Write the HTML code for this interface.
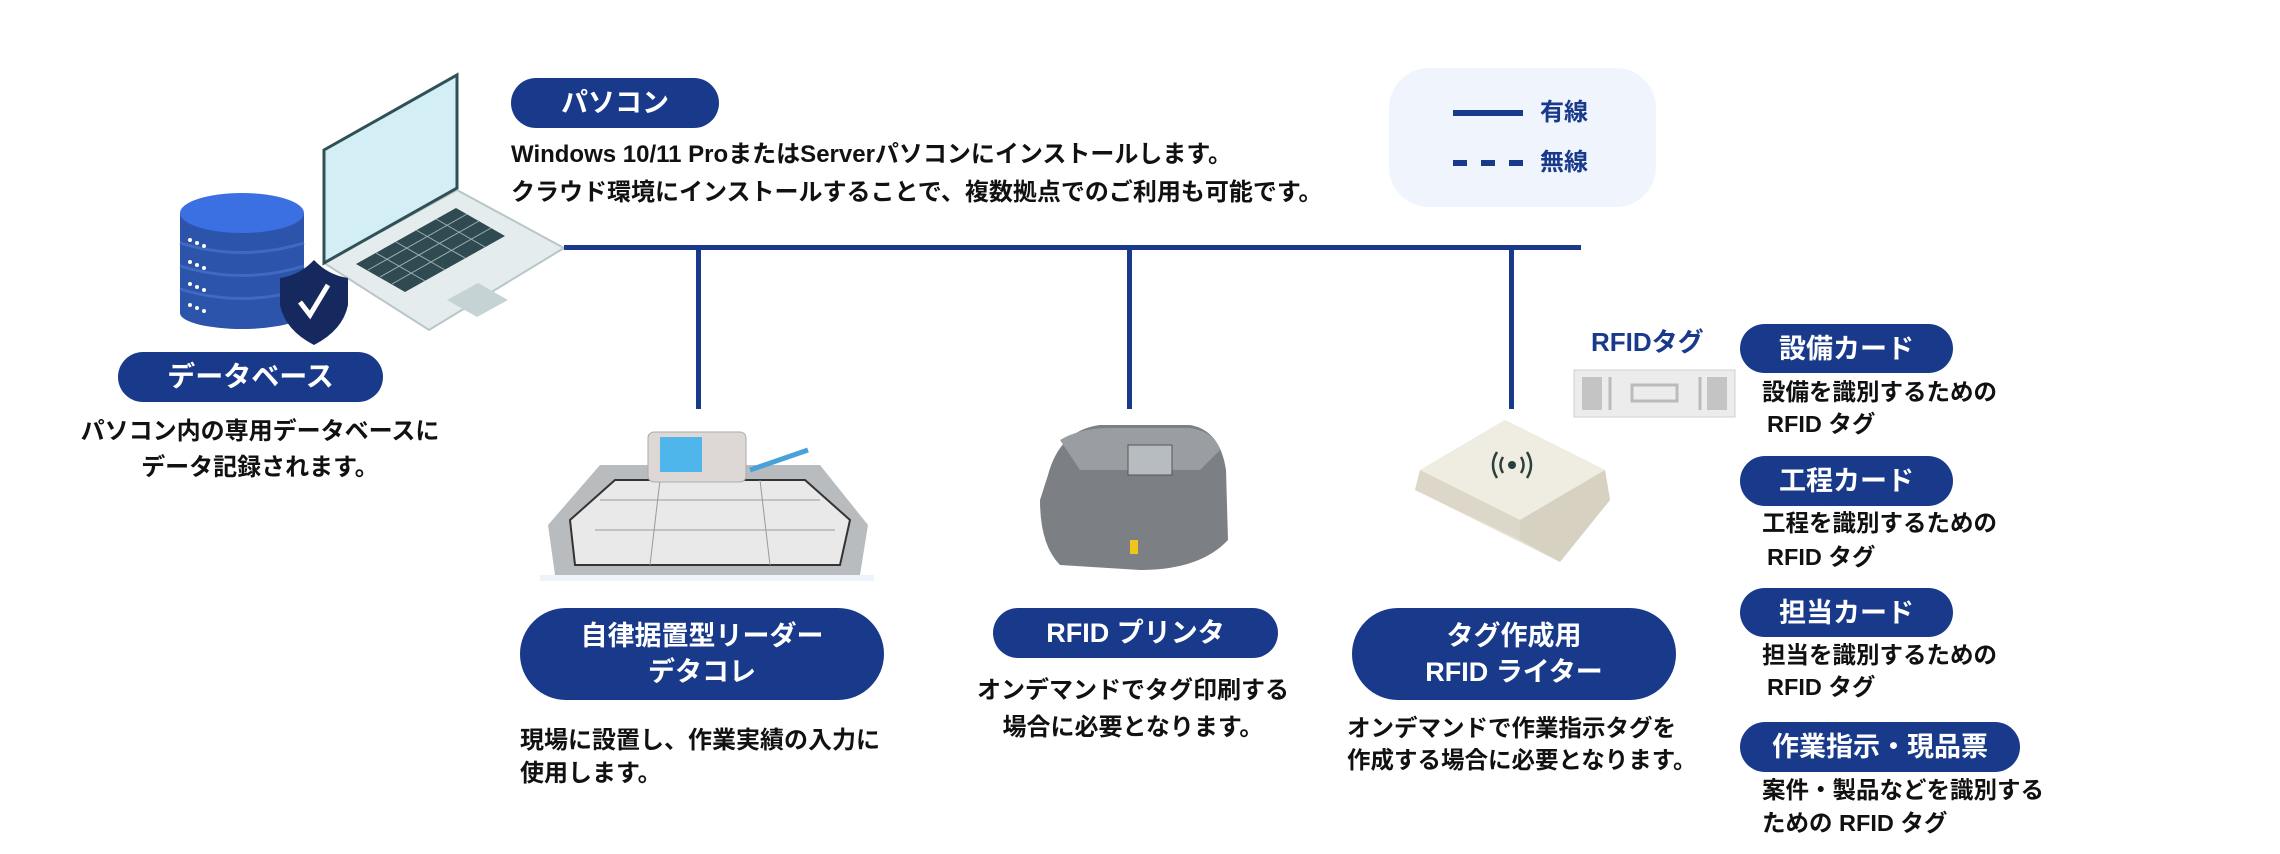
<!DOCTYPE html>
<html><head><meta charset="utf-8"><style>
*{margin:0;padding:0;box-sizing:border-box}
body{width:2280px;height:854px;background:#fff;position:relative;overflow:hidden;font-family:"Liberation Sans","Noto Sans CJK JP",sans-serif;font-weight:700;color:#111}
.a{position:absolute;white-space:nowrap}
.pill{position:absolute;background:#193a8b;color:#fff;border-radius:26px;display:flex;align-items:center;justify-content:center;text-align:center;font-size:27px;line-height:36px}
.big{border-radius:46px}
.t{position:absolute;white-space:nowrap;font-size:24px;line-height:33px}
.c{font-size:23.5px;line-height:33px}
.ln{position:absolute;background:#193a8b}
</style></head><body>

<svg class="a" style="left:0;top:0" width="2280" height="854">
 <!-- laptop -->
 <polygon points="324,263 457,190 564,248 429,330" fill="#e4eced" stroke="#b8c6c8" stroke-width="2"/>
 <polygon points="356,264 456,208 505,236 405,292" fill="#2f4a50"/>
 <g stroke="#9db0b3" stroke-width="1">
  <line x1="368" y1="270" x2="467" y2="214"/><line x1="380" y1="277" x2="479" y2="221"/><line x1="392" y1="284" x2="491" y2="228"/>
  <line x1="376" y1="253" x2="425" y2="281"/><line x1="396" y1="242" x2="445" y2="270"/><line x1="416" y1="230" x2="465" y2="258"/><line x1="436" y1="219" x2="485" y2="247"/>
 </g>
 <polygon points="447,300 478,283 508,300 477,317" fill="#c6d3d5"/>
 <polygon points="324,150 457,75 457,188 324,263" fill="#d3eef4" stroke="#2f5155" stroke-width="3"/>
 <!-- database -->
 <rect x="180" y="213" width="124" height="100" fill="#2c54aa"/>
 <ellipse cx="242" cy="313" rx="62" ry="16" fill="#2c54aa"/>
 <path d="M180 243 Q242 262 304 243 M180 266 Q242 285 304 266 M180 289 Q242 308 304 289" stroke="#4169c2" stroke-width="3" fill="none"/>
 <ellipse cx="242" cy="213" rx="62" ry="20" fill="#3a70e2"/>
 <g fill="#fff"><circle cx="190" cy="240" r="2"/><circle cx="197" cy="243" r="2"/><circle cx="204" cy="246" r="2"/>
 <circle cx="190" cy="262" r="2"/><circle cx="197" cy="265" r="2"/><circle cx="204" cy="268" r="2"/>
 <circle cx="190" cy="284" r="2"/><circle cx="197" cy="287" r="2"/><circle cx="204" cy="290" r="2"/>
 <circle cx="190" cy="305" r="2"/><circle cx="197" cy="308" r="2"/><circle cx="204" cy="311" r="2"/></g>
 <path d="M314 260 Q300 275 280 278 L280 305 Q285 330 314 345 Q343 330 348 305 L348 278 Q328 275 314 260Z" fill="#16295e"/>
 <path d="M300 302 L310 315 L328 285" stroke="#fff" stroke-width="5" fill="none"/>
 <!-- datacolle reader -->
 <polygon points="548,525 600,465 820,465 868,525 860,575 555,575" fill="#b9bcbf"/>
 <polygon points="570,520 615,480 805,480 850,520 840,565 575,565" fill="#e9e9ea" stroke="#333" stroke-width="2"/>
 <g stroke="#999" stroke-width="1"><line x1="600" y1="500" x2="820" y2="500"/><line x1="595" y1="530" x2="835" y2="530"/><line x1="660" y1="480" x2="650" y2="565"/><line x1="760" y1="480" x2="770" y2="565"/></g>
 <rect x="648" y="432" width="98" height="50" rx="6" fill="#ddd8d6" stroke="#aaa"/>
 <rect x="660" y="437" width="42" height="35" fill="#4fb6ec"/>
 <line x1="750" y1="470" x2="808" y2="450" stroke="#4aa0d8" stroke-width="5"/>
 <rect x="540" y="575" width="334" height="6" fill="#eef2fa"/>
 <!-- printer -->
 <path d="M1048 475 Q1060 430 1100 425 L1190 425 Q1220 430 1226 470 L1228 540 Q1200 570 1140 570 L1060 565 Q1040 545 1040 500Z" fill="#7c8085"/>
 <path d="M1060 440 Q1080 428 1110 428 L1190 428 Q1215 432 1220 450 L1200 470 L1080 470Z" fill="#9a9ea3"/>
 <rect x="1128" y="445" width="44" height="30" fill="#b7bcc1" stroke="#555"/>
 <rect x="1130" y="540" width="8" height="14" fill="#f0c419"/>
 <!-- rfid writer -->
 <polygon points="1420,470 1505,420 1605,470 1610,500 1560,562 1415,490" fill="#e7e3d6"/>
 <polygon points="1420,470 1505,420 1605,470 1520,520" fill="#efece2"/>
 <polygon points="1520,520 1605,470 1610,500 1560,562 1520,540" fill="#d6d1c0"/>
 <polygon points="1420,470 1520,520 1520,540 1415,490" fill="#dcd7c8"/>
 <circle cx="1512" cy="465" r="4" fill="#2b3f3d"/>
 <path d="M1503 457 Q1498 465 1503 473 M1521 457 Q1526 465 1521 473 M1497 452 Q1489 465 1497 478 M1527 452 Q1535 465 1527 478" stroke="#2b3f3d" stroke-width="2.5" fill="none"/>
 <!-- rfid tag -->
 <rect x="1574" y="370" width="161" height="47" fill="#ececec" stroke="#cfcfcf"/>
 <rect x="1582" y="377" width="20" height="33" fill="#c4c4c4"/><rect x="1707" y="377" width="20" height="33" fill="#c4c4c4"/>
 <rect x="1632" y="385" width="45" height="16" fill="none" stroke="#bbb" stroke-width="3"/>
 <line x1="1610" y1="377" x2="1610" y2="410" stroke="#bbb" stroke-width="3"/><line x1="1700" y1="377" x2="1700" y2="410" stroke="#bbb" stroke-width="3"/>
</svg>

<!-- network lines -->
<div class="ln" style="left:564px;top:245px;width:1017px;height:5px"></div>
<div class="ln" style="left:696px;top:247px;width:5px;height:162px"></div>
<div class="ln" style="left:1127px;top:247px;width:5px;height:162px"></div>
<div class="ln" style="left:1509px;top:247px;width:5px;height:162px"></div>

<!-- legend -->
<div class="a" style="left:1389px;top:68px;width:267px;height:139px;background:#f0f5fd;border-radius:40px"></div>
<div class="ln" style="left:1453px;top:110px;width:70px;height:6px"></div>
<div class="ln" style="left:1453px;top:160px;width:14px;height:6px"></div>
<div class="ln" style="left:1481px;top:160px;width:14px;height:6px"></div>
<div class="ln" style="left:1509px;top:160px;width:14px;height:6px"></div>
<div class="a" style="left:1540px;top:97px;font-size:24px;line-height:32px;color:#193a8b">有線</div>
<div class="a" style="left:1540px;top:147px;font-size:24px;line-height:32px;color:#193a8b">無線</div>

<!-- pasocon -->
<div class="pill" style="left:511px;top:78px;width:208px;height:50px">パソコン</div>
<div class="t" style="left:511px;top:138px">Windows 10/11 ProまたはServerパソコンにインストールします。</div>
<div class="t" style="left:511px;top:176px">クラウド環境にインストールすることで、複数拠点でのご利用も可能です。</div>

<!-- database -->
<div class="pill" style="left:118px;top:352px;width:265px;height:50px;font-size:28px">データベース</div>
<div class="t" style="left:60px;width:400px;text-align:center;top:415px">パソコン内の専用データベースに</div>
<div class="t" style="left:60px;width:400px;text-align:center;top:451px">データ記録されます。</div>

<!-- datacolle -->
<div class="pill big" style="left:520px;top:608px;width:364px;height:92px">自律据置型リーダー<br>デタコレ</div>
<div class="t" style="left:520px;top:724px">現場に設置し、作業実績の入力に</div>
<div class="t" style="left:520px;top:757px">使用します。</div>

<!-- printer -->
<div class="pill" style="left:993px;top:608px;width:285px;height:50px">RFID プリンタ</div>
<div class="t" style="left:933px;width:400px;text-align:center;top:674px">オンデマンドでタグ印刷する</div>
<div class="t" style="left:933px;width:400px;text-align:center;top:711px">場合に必要となります。</div>

<!-- writer -->
<div class="pill big" style="left:1352px;top:608px;width:324px;height:92px">タグ作成用<br>RFID ライター</div>
<div class="t" style="left:1347px;top:712px;font-size:23.5px">オンデマンドで作業指示タグを</div>
<div class="t" style="left:1347px;top:744px;font-size:23.5px">作成する場合に必要となります。</div>

<!-- tags -->
<div class="a" style="left:1591px;top:325px;font-size:26px;line-height:34px;color:#193a8b">RFIDタグ</div>
<div class="pill" style="left:1740px;top:324px;width:213px;height:49px">設備カード</div>
<div class="t c" style="left:1762px;top:376px">設備を識別するための</div>
<div class="t c" style="left:1767px;top:408px">RFID タグ</div>
<div class="pill" style="left:1740px;top:456px;width:213px;height:50px">工程カード</div>
<div class="t c" style="left:1762px;top:507px">工程を識別するための</div>
<div class="t c" style="left:1767px;top:541px">RFID タグ</div>
<div class="pill" style="left:1740px;top:588px;width:213px;height:49px">担当カード</div>
<div class="t c" style="left:1762px;top:639px">担当を識別するための</div>
<div class="t c" style="left:1767px;top:671px">RFID タグ</div>
<div class="pill" style="left:1740px;top:722px;width:280px;height:50px">作業指示・現品票</div>
<div class="t c" style="left:1762px;top:774px">案件・製品などを識別する</div>
<div class="t c" style="left:1762px;top:807px">ための RFID タグ</div>
</body></html>
